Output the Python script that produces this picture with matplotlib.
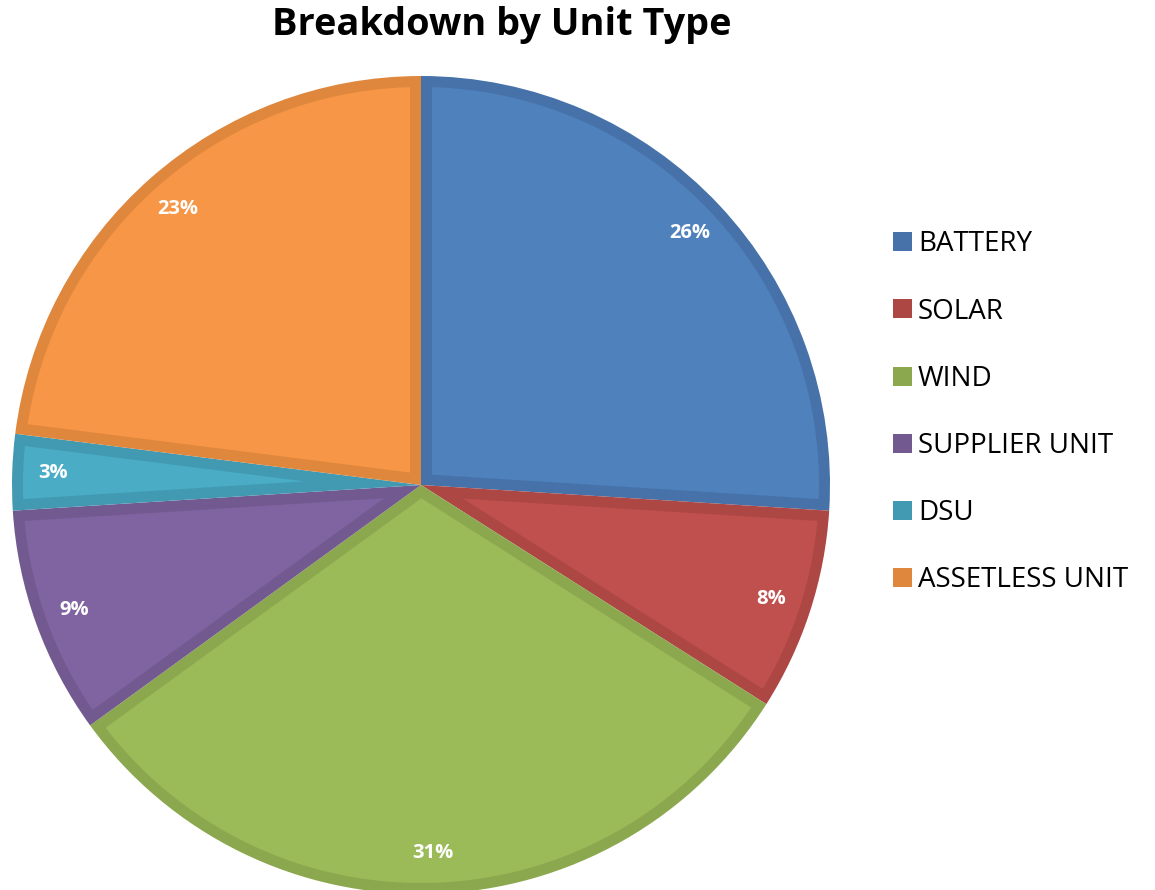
import numpy as np
import matplotlib
matplotlib.use('Agg')
import matplotlib.pyplot as plt
from matplotlib.patches import Patch, Polygon

# data
labels = ['BATTERY', 'SOLAR', 'WIND', 'SUPPLIER UNIT', 'DSU', 'ASSETLESS UNIT']
shares = [26, 8, 31, 9, 3, 23]
fills = ['#4F81BD', '#C0504D', '#9BBB59', '#8064A2', '#4BACC6', '#F79646']
edges = ['#4672A9', '#AD4744', '#8BA84F', '#72598F', '#429AB2', '#E0873E']

plt.rcParams['font.family'] = ['Open Sans', 'DejaVu Sans']

BORDER = 11 / 409  # darker rim inside every slice, in pie radii


def inset_wedge(t1, t2, r, d, n=120):
    """polygon for wedge t1..t2 (deg, t1<t2) shrunk inward by d"""
    a1, a2 = np.radians(t1), np.radians(t2)
    half = (a2 - a1) / 2
    rr = r - d
    u1 = np.array([np.cos(a1), np.sin(a1)])
    n1 = np.array([-np.sin(a1), np.cos(a1)])
    u2 = np.array([np.cos(a2), np.sin(a2)])
    n2 = np.array([np.sin(a2), -np.cos(a2)])
    bis = a1 + half
    apex = d / np.sin(half) * np.array([np.cos(bis), np.sin(bis)])
    t = np.sqrt(rr ** 2 - d ** 2)
    s = np.arcsin(d / rr)
    arc = np.linspace(a1 + s, a2 - s, n)
    pts = [apex, t * u1 + d * n1]
    pts += list(np.column_stack([rr * np.cos(arc), rr * np.sin(arc)]))
    pts += [t * u2 + d * n2]
    return np.array(pts)


fig = plt.figure(figsize=(11.55, 8.9), dpi=100)
# pie box in pixels: centre (421, 485), radius 409
ax = fig.add_axes([12 / 1155, (890 - 894) / 890, 818 / 1155, 818 / 890])

wedges, texts, autotexts = ax.pie(
    shares, colors=edges, startangle=90, counterclock=False,
    autopct='%1.0f%%', pctdistance=0.9, radius=1.0,
    wedgeprops=dict(linewidth=0),
    textprops=dict(color='white', fontsize=14.5, fontweight='bold'))

for w, fc in zip(wedges, fills):
    ax.add_patch(Polygon(inset_wedge(w.theta1, w.theta2, w.r, BORDER),
                         closed=True, facecolor=fc, edgecolor='none', zorder=w.get_zorder() + 0.5))
for t in autotexts:
    t.set_zorder(10)

ax.set_xlim(-1, 1)
ax.set_ylim(-1, 1)
ax.set_aspect('equal')
ax.axis('off')

fig.text(502 / 1155, 1 - 25 / 890, 'Breakdown by Unit Type', ha='center', va='center',
         fontsize=27.3, fontweight='bold')

handles = [Patch(facecolor=c, edgecolor='none') for c in edges]
fig.legend(handles, labels, loc='upper left', bbox_to_anchor=(893 / 1155, 1 - 230.5 / 890),
           frameon=False, fontsize=20, handlelength=0.68, handleheight=0.68,
           handletextpad=0.22, labelspacing=1.41, borderaxespad=0, borderpad=0)

fig.savefig('out.png', dpi=100)
